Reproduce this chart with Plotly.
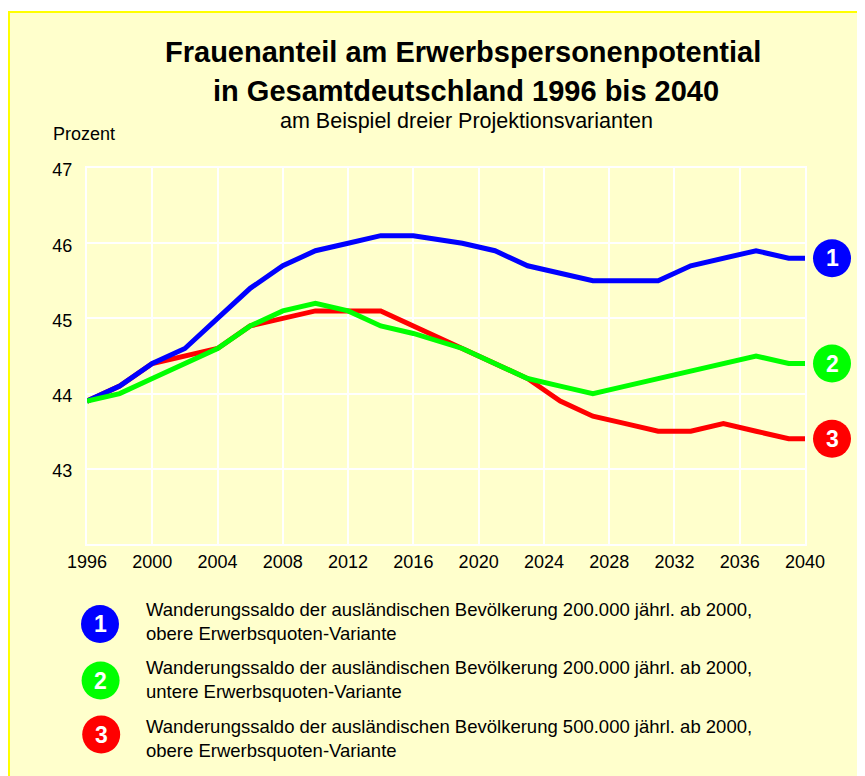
import plotly.graph_objects as go

years = [1996, 1998, 2000, 2002, 2004, 2006, 2008, 2010, 2012, 2014, 2016,
         2019, 2021, 2023, 2025, 2027, 2029, 2031, 2033, 2035, 2037, 2039, 2040]
variant1 = [43.9, 44.1, 44.4, 44.6, 45.0, 45.4, 45.7, 45.9, 46.0, 46.1, 46.1,
            46.0, 45.9, 45.7, 45.6, 45.5, 45.5, 45.5, 45.7, 45.8, 45.9, 45.8, 45.8]
variant2 = [43.9, 44.0, 44.2, 44.4, 44.6, 44.9, 45.1, 45.2, 45.1, 44.9, 44.8,
            44.6, 44.4, 44.2, 44.1, 44.0, 44.1, 44.2, 44.3, 44.4, 44.5, 44.4, 44.4]
variant3 = [43.9, 44.1, 44.4, 44.5, 44.6, 44.9, 45.0, 45.1, 45.1, 45.1, 44.9,
            44.6, 44.4, 44.2, 43.9, 43.7, 43.6, 43.5, 43.5, 43.6, 43.5, 43.4, 43.4]
x_ticks = [1996, 2000, 2004, 2008, 2012, 2016, 2020, 2024, 2028, 2032, 2036, 2040]
y_ticks = [43, 44, 45, 46, 47]
labels = ["1", "2", "3"]
colors = ["#0000FF", "#00FF00", "#FF0000"]
legend_texts = [
    "Wanderungssaldo der ausländischen Bevölkerung 200.000 jährl. ab 2000,<br>obere Erwerbsquoten-Variante",
    "Wanderungssaldo der ausländischen Bevölkerung 200.000 jährl. ab 2000,<br>untere Erwerbsquoten-Variante",
    "Wanderungssaldo der ausländischen Bevölkerung 500.000 jährl. ab 2000,<br>obere Erwerbsquoten-Variante",
]
title1 = "Frauenanteil am Erwerbspersonenpotential"
title2 = "in Gesamtdeutschland 1996 bis 2040"
subtitle = "am Beispiel dreier Projektionsvarianten"
y_title = "Prozent"

FONT = "Liberation Sans, Arial, sans-serif"
OFF = 8  # page body margin
WIDTH, HEIGHT = 865 - OFF, 776 - OFF
# plot area in page pixels
L, R, T, B = 87, 805, 168, 544
PW, PH = R - L, B - T


def px(xp):
    return (xp - L) / PW


def py(yp):
    return (B - yp) / PH


fig = go.Figure()
series = [variant1, variant2, variant3]
# draw order: red, blue, green
for idx in [2, 0, 1]:
    fig.add_trace(go.Scatter(x=years, y=series[idx], mode="lines",
                             line=dict(color=colors[idx], width=5),
                             hoverinfo="skip", showlegend=False))

shapes = [
    dict(type="rect", xref="paper", yref="paper", layer="below",
         x0=px(OFF + 1), x1=px(900), y0=py(12), y1=py(820),
         fillcolor="#FFFFCC", line=dict(color="#FFFF00", width=2)),
]
annotations = [
    dict(text="<b>%s</b>" % title1, x=px(463), y=py(52), xref="paper", yref="paper",
         showarrow=False, xanchor="center", yanchor="middle",
         font=dict(family=FONT, size=29, color="black")),
    dict(text="<b>%s</b>" % title2, x=px(466), y=py(91), xref="paper", yref="paper",
         showarrow=False, xanchor="center", yanchor="middle",
         font=dict(family=FONT, size=29, color="black")),
    dict(text=subtitle, x=px(466), y=py(121), xref="paper", yref="paper",
         showarrow=False, xanchor="center", yanchor="middle",
         font=dict(family=FONT, size=21.5, color="black")),
    dict(text=y_title, x=px(51), y=py(134), xref="paper", yref="paper",
         showarrow=False, xanchor="left", yanchor="middle",
         font=dict(family=FONT, size=18, color="black")),
]

# numbered badges at the end of each line (anchored to the last data point;
# the x axis ends at the last year, i.e. paper x = 1)
BADGE_DX, BADGE_R = 27, 19
for i, s in enumerate(series):
    shapes.append(dict(type="circle", xref="paper", yref="y",
                       xsizemode="pixel", ysizemode="pixel",
                       xanchor=1, yanchor=s[-1],
                       x0=BADGE_DX - BADGE_R, x1=BADGE_DX + BADGE_R,
                       y0=-BADGE_R, y1=BADGE_R,
                       fillcolor=colors[i], line=dict(width=0), layer="above"))
    annotations.append(dict(text="<b>%s</b>" % labels[i], x=years[-1], y=s[-1],
                            xref="x", yref="y", xshift=BADGE_DX, showarrow=False,
                            xanchor="center", yanchor="middle",
                            font=dict(family=FONT, size=23, color="white")))

legend_cy = [624, 680.5, 734.5]
legend_ty = [621.5, 679, 738.5]
for i in range(3):
    r = 19
    cx = 100 + 0.6 * i
    shapes.append(dict(type="circle", xref="paper", yref="paper",
                       x0=px(cx - r), x1=px(cx + r),
                       y0=py(legend_cy[i] + r), y1=py(legend_cy[i] - r),
                       fillcolor=colors[i], line=dict(width=0)))
    annotations.append(dict(text="<b>%s</b>" % labels[i], x=px(cx), y=py(legend_cy[i]),
                            xref="paper", yref="paper", showarrow=False,
                            xanchor="center", yanchor="middle",
                            font=dict(family=FONT, size=23, color="white")))
    annotations.append(dict(text=legend_texts[i], x=px(144), y=py(legend_ty[i]),
                            xref="paper", yref="paper", showarrow=False,
                            xanchor="left", yanchor="middle", align="left",
                            font=dict(family=FONT, size=18.5, color="black")))

fig.update_layout(
    width=WIDTH, height=HEIGHT,
    margin=dict(l=L - OFF, r=WIDTH - (R - OFF), t=T - OFF, b=HEIGHT - (B - OFF), pad=0),
    paper_bgcolor="white", plot_bgcolor="rgba(0,0,0,0)",
    font=dict(family=FONT, size=18, color="black"),
    shapes=shapes, annotations=annotations, showlegend=False,
    xaxis=dict(range=[years[0], years[-1]], tickvals=x_ticks, showgrid=True,
               gridcolor="white", gridwidth=2, zeroline=False,
               showline=True, linecolor="white", linewidth=2, mirror=True,
               ticks="", ticklabelstandoff=0,
               tickfont=dict(family=FONT, size=18, color="black")),
    yaxis=dict(range=[42, 47], tickvals=y_ticks, showgrid=True,
               gridcolor="white", gridwidth=2, zeroline=False,
               showline=True, linecolor="white", linewidth=2, mirror=True,
               ticks="outside", ticklen=9, tickcolor="rgba(0,0,0,0)",
               ticklabelshift=2,
               tickfont=dict(family=FONT, size=18, color="black")),
)

fig.write_html("out.html")
